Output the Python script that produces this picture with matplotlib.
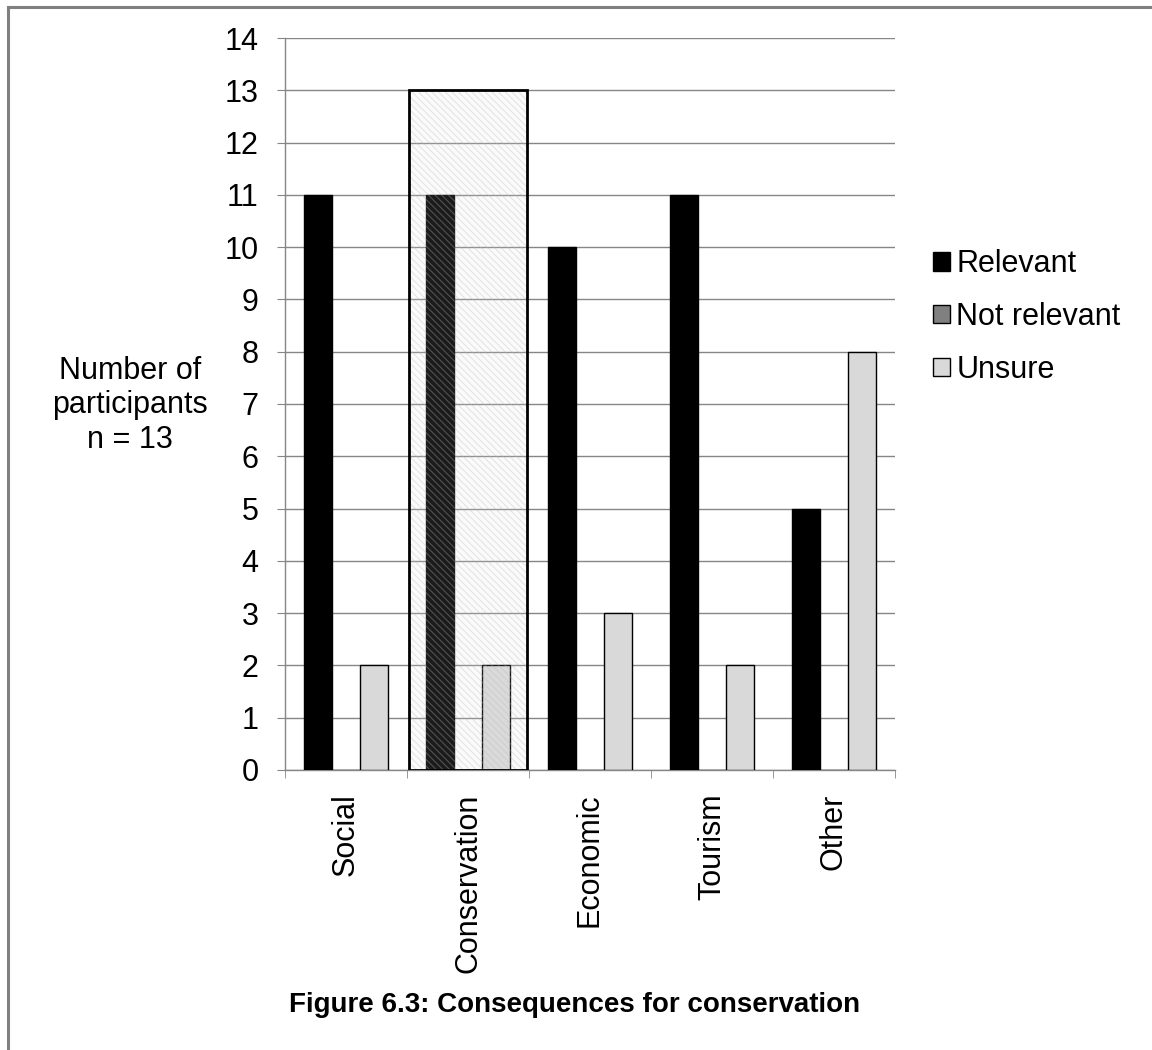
import matplotlib
matplotlib.use('Agg')
import matplotlib.pyplot as plt
from matplotlib.patches import Rectangle
from matplotlib.lines import Line2D
import numpy as np

plt.rcParams['font.family'] = ['Liberation Sans', 'DejaVu Sans']
plt.rcParams['hatch.linewidth'] = 0.8

# data
categories = ['Social', 'Conservation', 'Economic', 'Tourism', 'Other']
relevant = [11, 11, 10, 11, 5]
not_relevant = [0, 0, 0, 0, 0]
unsure = [2, 2, 3, 2, 8]
highlight_cat = 1
highlight_top = 13

fig = plt.figure(figsize=(11.52, 10.5), dpi=100)
ax = fig.add_axes([0.2474, 0.2667, 0.5295, 0.6971])

x = np.arange(len(categories))
w = 0.228
ax.bar(x - w, relevant, w, color='black', edgecolor='black', lw=1, label='Relevant', zorder=3)
ax.bar(x, not_relevant, w, color='#808080', edgecolor='black', lw=1, label='Not relevant', zorder=3)
ax.bar(x + w, unsure, w, color='#d9d9d9', edgecolor='black', lw=1, label='Unsure', zorder=3)

# highlighted category box (drawn over the bars)
hx = highlight_cat - 0.485
ax.add_patch(Rectangle((hx, 0), 0.97, highlight_top, facecolor=(0.9, 0.9, 0.9, 0.12),
                       edgecolor=(0.72, 0.72, 0.72, 0.35), hatch='\\\\\\\\\\', lw=0, zorder=4))
ax.add_patch(Rectangle((hx, 0), 0.97, highlight_top, facecolor='none',
                       edgecolor='black', lw=2, zorder=5))

ax.set_xlim(-0.5, len(categories) - 0.5)
ax.set_ylim(0, 14)
ax.set_yticks(range(0, 15))
ax.set_xticks(x)
ax.set_xticklabels(categories, rotation=90, va='top', ha='center')
ax.set_xticks(np.arange(-0.5, len(categories)), minor=True)
ax.tick_params(axis='x', which='major', length=0, pad=17, labelsize=22)
ax.tick_params(axis='x', which='minor', length=6, color='#868686', direction='out')
ax.tick_params(axis='y', length=6, color='#868686', pad=13, labelsize=22)

ax.grid(axis='y', color='#868686', lw=1, zorder=0)
ax.set_axisbelow(True)
for s in ['top', 'right']:
    ax.spines[s].set_visible(False)
for s in ['left', 'bottom']:
    ax.spines[s].set_color('#868686')
    ax.spines[s].set_linewidth(1)

fig.text(0.113, 0.614, 'Number of\nparticipants\nn = 13', ha='center', va='center',
         fontsize=22, linespacing=1.2)

fig.legend(loc='center left', bbox_to_anchor=(0.797, 0.698), frameon=False, fontsize=22,
           handlelength=0.55, handleheight=0.55, handletextpad=0.2, labelspacing=0.75,
           borderpad=0)

fig.text(0.499, 0.043, 'Figure 6.3: Consequences for conservation', ha='center', va='center',
         fontsize=20, fontweight='bold')

# frame lines at top and left of the picture
fig.add_artist(Line2D([0.0069, 1], [0.9938, 0.9938], color='#808080', lw=2.2, transform=fig.transFigure))
fig.add_artist(Line2D([0.0069, 0.0069], [0, 0.9938], color='#808080', lw=2.2, transform=fig.transFigure))

fig.savefig('out.png', dpi=100)
